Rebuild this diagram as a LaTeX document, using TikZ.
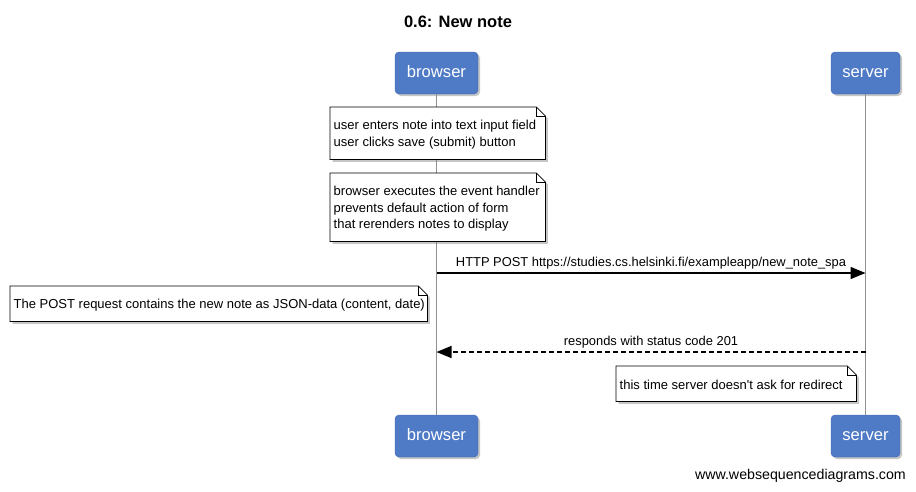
\documentclass[tikz,border=0pt]{standalone}
\usepackage{fontspec}
\setmainfont{Liberation Sans}
\usetikzlibrary{shadows,arrows.meta}
\definecolor{actorblue}{HTML}{4F7AC6}
\definecolor{actoredge}{HTML}{4068B0}
\definecolor{lifegray}{HTML}{909090}
\tikzset{
  actor/.style={draw=actoredge, fill=actorblue, rounded corners=4pt, text=white,
    minimum width=83pt, minimum height=42pt, font=\fontsize{16.6}{19}\selectfont,
    text height=11pt, text depth=3pt,
    drop shadow={shadow xshift=2pt, shadow yshift=-2pt, opacity=0.45}},
  actorn/.style={actor, minimum width=69pt},
  lifeline/.style={draw=lifegray, line width=1.6pt},
  notebox/.style={inner sep=0pt, font=\fontsize{13}{16.8}\selectfont, align=left, anchor=north west},
  notepath/.style={draw=black, fill=white, line width=0.8pt,
    drop shadow={shadow xshift=2.5pt, shadow yshift=-2.5pt, opacity=0.45}},
  msg/.style={line width=1.4pt, -{Triangle[length=15pt,width=12pt]}},
  msglabel/.style={font=\fontsize{12.9}{15}\selectfont, inner sep=0pt},
}
\newcommand\wsdnote[6]{% name, x1, y1, x2, y2, text
  \node[notebox, minimum width=#4pt-#2pt, minimum height=#5pt-#3pt] (#1) at (#2,#3) {};
  \draw[notepath] (#1.south west) -- (#1.north west) -- ([xshift=-9pt]#1.north east)
     -- ([yshift=-9pt]#1.north east) -- (#1.south east) -- cycle;
  \draw[line width=0.6pt] ([xshift=-9pt]#1.north east) -- ([xshift=-9pt,yshift=-9pt]#1.north east)
     -- ([yshift=-9pt]#1.north east);
  \node[notebox, anchor=west, inner xsep=3.5pt, yshift=-1.5pt] (#1-text) at (#1.west) {#6};
}
\begin{document}
\begin{tikzpicture}[x=1pt,y=-1pt]
\useasboundingbox (0,0) rectangle (916,491);
\node[font=\bfseries\fontsize{16.5}{19}\selectfont] (title) at (458,21.5) {0.6: New note};

\node[actor] (b1) at (436.5,73) {browser};
\node[actorn] (s1) at (865.5,73) {server};
\node[actor] (b2) at (436.5,436) {browser};
\node[actorn] (s2) at (865.5,436) {server};
\draw[lifeline] (b1.south) -- (b2.north);
\draw[lifeline] (s1.south) -- (s2.north);

\wsdnote{n1}{330}{107}{545}{159}{user enters note into text input field\\user clicks save (submit) button}
\wsdnote{n2}{330}{173}{545}{241}{browser executes the event handler\\prevents default action of form\\that rerenders notes to display}

\coordinate (m1b) at (b1 |- 0,273);
\coordinate (m1s) at (s1 |- 0,273);
\draw[msg] (m1b) -- (m1s) node[msglabel, midway, above=3.5pt] (l1) {HTTP POST https://studies.cs.helsinki.fi/exampleapp/new\_note\_spa};

\wsdnote{n3}{10}{286}{427}{321}{The POST request contains the new note as JSON-data (content, date)}

\coordinate (m2b) at (b1 |- 0,352);
\coordinate (m2s) at (s1 |- 0,352);
\draw[msg, dash pattern=on 5pt off 3pt] (m2s) -- (m2b) node[msglabel, midway, above=3.5pt] (l2) {responds with status code 201};

\wsdnote{n4}{616}{366}{856}{401}{this time server doesn\textquotesingle t ask for redirect}

\node[font=\fontsize{14.2}{16}\selectfont, anchor=east, inner sep=0pt] (wm) at (906,476) {www.websequencediagrams.com};
\end{tikzpicture}
\end{document}
